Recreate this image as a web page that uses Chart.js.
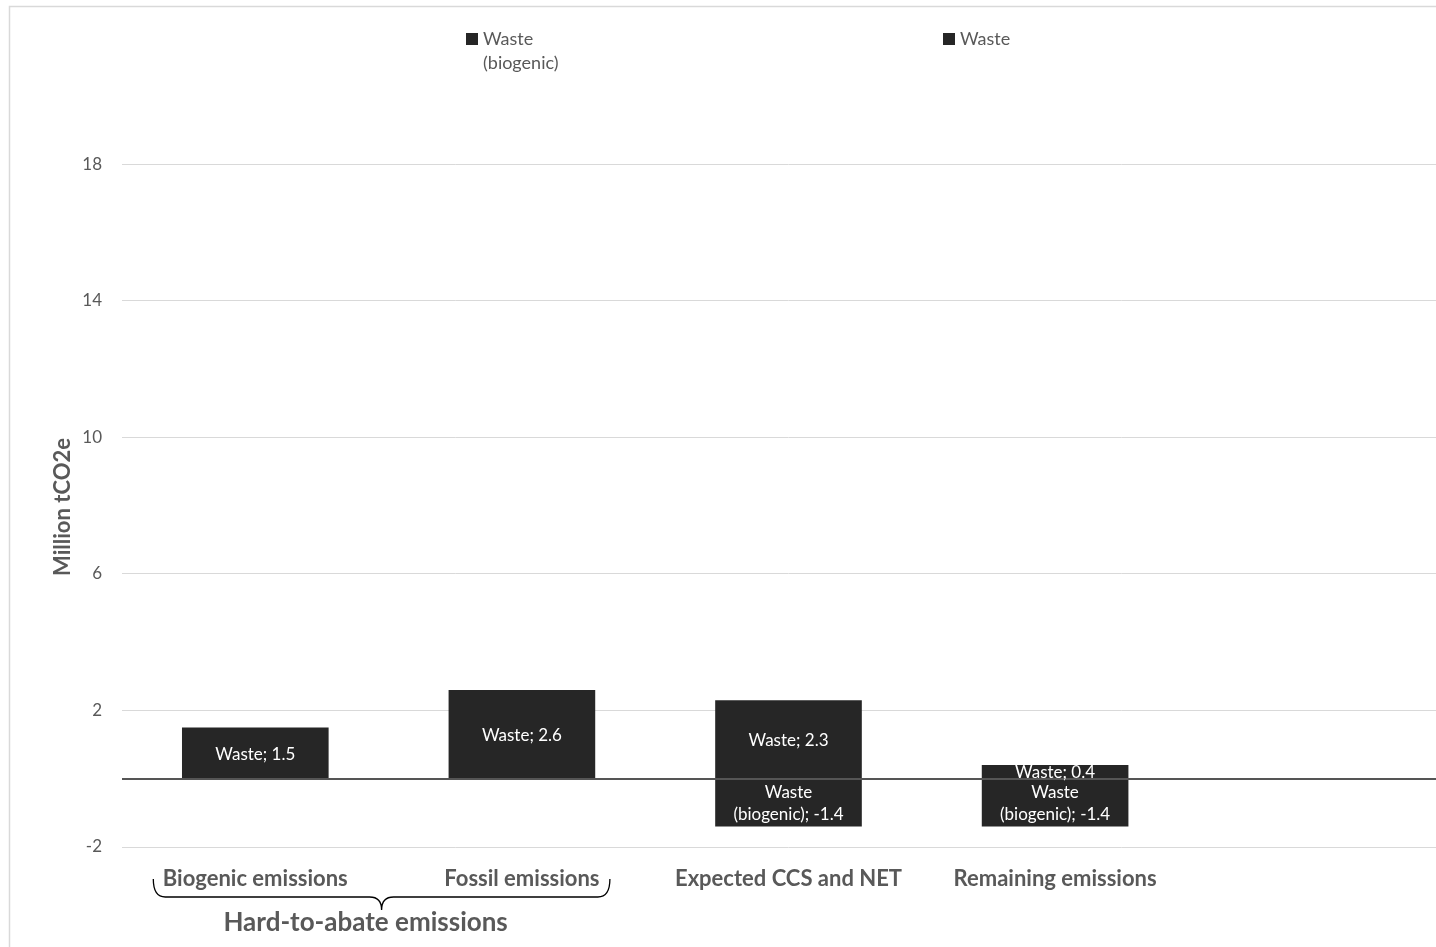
<!DOCTYPE html>
<html>
<head>
<meta charset="utf-8">
<script src="https://cdn.jsdelivr.net/npm/chart.js@4"></script>
<style>
  html, body { margin: 0; padding: 0; background: #fff; width: 1436px; height: 947px; overflow: hidden; }
  canvas { display: block; }
</style>
</head>
<body>
<canvas id="chart" width="1460" height="947" style="width:1460px;height:947px"></canvas>
<script>
// Categories along the x axis (the last slot is left empty)
const categories = ['Biogenic emissions', 'Fossil emissions', 'Expected CCS and NET', 'Remaining emissions', ''];
// Series values, million tCO2e
const wasteBiogenic = [null, null, -1.4, -1.4, null];
const waste = [1.5, 2.6, 2.3, 0.4, null];
const seriesNames = ['Waste (biogenic)', 'Waste'];
// Tick labels on the value axis
const yTicks = [-2, 2, 6, 10, 14, 18];
const axisTitle = 'Million tCO2e';
const groupLabel = 'Hard-to-abate emissions';

const FONT = 'Lato, "Open Sans", sans-serif';
const TEXT = '#595959';
const BAR = '#262626';

// "Waste (biogenic)" wraps onto two lines
function splitName(name) {
  const i = name.indexOf(' (');
  return i < 0 ? [name] : [name.slice(0, i), name.slice(i + 1)];
}

const decorations = {
  id: 'decorations',
  beforeDraw(chart) {
    const ctx = chart.ctx;
    ctx.save();
    ctx.strokeStyle = '#d9d9d9';
    ctx.lineWidth = 1.5;
    ctx.strokeRect(9.5, 6.5, chart.width + 20, chart.height + 20);
    ctx.restore();
  },
  afterDatasetsDraw(chart) {
    const ctx = chart.ctx;
    const x = chart.scales.x, y = chart.scales.y;
    const area = chart.chartArea;
    ctx.save();

    // zero line
    const y0 = Math.round(y.getPixelForValue(0));
    ctx.strokeStyle = '#555555';
    ctx.lineWidth = 2;
    ctx.beginPath();
    ctx.moveTo(area.left, y0);
    ctx.lineTo(area.right, y0);
    ctx.stroke();

    // value labels inside the bars
    ctx.fillStyle = '#ffffff';
    ctx.font = '17px ' + FONT;
    ctx.textAlign = 'center';
    ctx.textBaseline = 'middle';
    chart.data.datasets.forEach((ds, di) => {
      const meta = chart.getDatasetMeta(di);
      meta.data.forEach((el, i) => {
        const v = ds.data[i];
        if (v === null || v === undefined) return;
        const p = el.getProps(['x', 'y', 'base'], true);
        const lines = splitName(ds.label);
        lines[lines.length - 1] += '; ' + v.toFixed(1);
        const lh = 22;
        const cy = (p.y + p.base) / 2 + 1;
        lines.forEach((t, k) => {
          ctx.fillText(t, p.x, cy + (k - (lines.length - 1) / 2) * lh);
        });
      });
    });

    // legend
    const legendX = [466, 943];
    chart.data.datasets.forEach((ds, di) => {
      const lx = legendX[di];
      ctx.fillStyle = ds.backgroundColor;
      ctx.fillRect(lx, 33, 12, 12);
      ctx.fillStyle = TEXT;
      ctx.font = '18px ' + FONT;
      ctx.textAlign = 'left';
      ctx.textBaseline = 'middle';
      splitName(ds.label).forEach((t, k) => {
        ctx.fillText(t, lx + 17, 39 + k * 24);
      });
    });

    // value axis title
    ctx.save();
    ctx.translate(63, 507);
    ctx.rotate(-Math.PI / 2);
    ctx.fillStyle = TEXT;
    ctx.font = 'bold 22px ' + FONT;
    ctx.textAlign = 'center';
    ctx.textBaseline = 'middle';
    ctx.fillText(axisTitle, 0, 0);
    ctx.restore();

    // brace grouping the first two categories
    const bl = x.getPixelForValue(0) - 102;
    const br = x.getPixelForValue(1) + 88;
    const bm = (bl + br) / 2;
    const top = 879, mid = 897, tip = 910;
    ctx.strokeStyle = '#000000';
    ctx.lineWidth = 1.3;
    ctx.beginPath();
    ctx.moveTo(bl, top);
    ctx.quadraticCurveTo(bl, mid, bl + 12, mid);
    ctx.lineTo(bm - 12, mid);
    ctx.quadraticCurveTo(bm, mid, bm, tip);
    ctx.quadraticCurveTo(bm, mid, bm + 12, mid);
    ctx.lineTo(br - 12, mid);
    ctx.quadraticCurveTo(br, mid, br, top);
    ctx.stroke();

    ctx.fillStyle = TEXT;
    ctx.font = 'bold 26px ' + FONT;
    ctx.textAlign = 'center';
    ctx.textBaseline = 'middle';
    ctx.fillText(groupLabel, bm - 16, 923);

    ctx.restore();
  }
};

new Chart(document.getElementById('chart'), {
  type: 'bar',
  data: {
    labels: categories,
    datasets: [
      { label: seriesNames[0], data: wasteBiogenic, backgroundColor: BAR },
      { label: seriesNames[1], data: waste, backgroundColor: BAR }
    ]
  },
  options: {
    responsive: false,
    animation: false,
    devicePixelRatio: 1,
    layout: { padding: { top: 62, right: 5, left: 0, bottom: 0 } },
    datasets: { bar: { categoryPercentage: 1, barPercentage: 0.55 } },
    plugins: { legend: { display: false }, tooltip: { enabled: false } },
    scales: {
      x: {
        stacked: true,
        grid: { display: false, drawTicks: false },
        border: { display: false },
        ticks: { color: TEXT, font: { family: FONT, size: 22, weight: 'bold' }, padding: 19, maxRotation: 0, autoSkip: false },
        afterFit(scale) { scale.height = 100; }
      },
      y: {
        stacked: true,
        min: -2,
        max: 21,
        grid: { color: '#d9d9d9', lineWidth: 1, drawTicks: false },
        border: { display: false },
        ticks: { color: TEXT, font: { family: FONT, size: 17 }, padding: 20 },
        afterBuildTicks(scale) { scale.ticks = yTicks.map(v => ({ value: v })); },
        afterFit(scale) { scale.width = 122; }
      }
    }
  },
  plugins: [decorations]
});
</script>
</body>
</html>
